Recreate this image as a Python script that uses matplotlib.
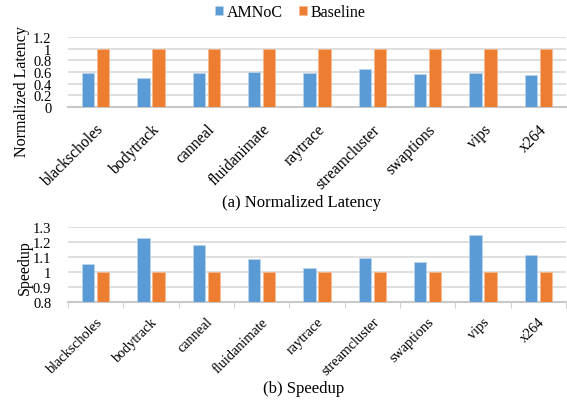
import matplotlib
matplotlib.use("Agg")
import matplotlib.pyplot as plt
import numpy as np

plt.rcParams['font.family'] = ['Liberation Serif', 'DejaVu Serif']

benchmarks = ["blackscholes", "bodytrack", "canneal", "fluidanimate", "raytrace",
              "streamcluster", "swaptions", "vips", "x264"]
latency_amnoc = [0.59, 0.50, 0.59, 0.60, 0.58, 0.66, 0.56, 0.59, 0.55]
latency_base = [1, 1, 1, 1, 1, 1, 1, 1, 1]
speedup_amnoc = [1.053, 1.229, 1.184, 1.089, 1.027, 1.095, 1.067, 1.249, 1.115]
speedup_base = [1, 1, 1, 1, 1, 1, 1, 1, 1]

BLUE = "#5B9BD5"
ORANGE = "#ED7D31"
GRID = "#d9d9d9"
W, H = 567, 402

fig = plt.figure(figsize=(W / 100, H / 100), dpi=100)


def px_axes(left, top, right, bottom):
    return fig.add_axes([left / W, 1 - bottom / H, (right - left) / W, (bottom - top) / H])


def draw(ax, a, b, bottom, ylim, yticks, xfs, xpad, ticks_on):
    x = np.arange(len(benchmarks))
    bw = 0.22
    ax.bar(x - 0.135, np.array(a) - bottom, bw, bottom=bottom, color=BLUE, label="AMNoC",
           edgecolor="#bcd5ec", linewidth=0.5, zorder=3)
    ax.bar(x + 0.135, np.array(b) - bottom, bw, bottom=bottom, color=ORANGE, label="Baseline",
           edgecolor="#f6b98f", linewidth=0.5, zorder=3)
    ax.set_xlim(-0.5, len(benchmarks) - 0.5)
    ax.set_ylim(*ylim)
    ax.set_yticks(yticks)
    ax.set_yticklabels([("%g" % t) for t in yticks], fontsize=10.5)
    ax.yaxis.grid(True, color=GRID, linewidth=1.2, zorder=0)
    ax.set_axisbelow(True)
    for s in ["top", "right", "left"]:
        ax.spines[s].set_visible(False)
    ax.spines["bottom"].set_color("#c8c8c8")
    ax.spines["bottom"].set_linewidth(1.5)
    ax.tick_params(axis="y", length=0, pad=12)
    ax.set_xticks(x)
    ax.set_xticklabels(benchmarks, rotation=45, ha="right", rotation_mode="anchor", fontsize=xfs)
    if ticks_on:
        ax.set_xticks(np.arange(len(benchmarks) + 1) - 0.5, minor=True)
        ax.tick_params(axis="x", which="minor", length=4, color="#c8c8c8")
    ax.tick_params(axis="x", which="major", length=0, pad=xpad)


ax1 = px_axes(68, 38, 566, 108)
draw(ax1, latency_amnoc, latency_base, 0, (0, 1.2), [0, 0.2, 0.4, 0.6, 0.8, 1, 1.2], 11.3, 10, False)

ax2 = px_axes(68, 228.3, 566, 303.3)
draw(ax2, speedup_amnoc, speedup_base, 0.8, (0.8, 1.3), [0.8, 0.9, 1, 1.1, 1.2, 1.3], 10.3, 9, True)

fig.text(22 / W, 1 - 92 / H, "Normalized Latency", rotation=90, ha="center", va="center", fontsize=11.5)
fig.text(25 / W, 1 - 268 / H, "Speedup", rotation=90, ha="center", va="center", fontsize=11.5)

fig.text(302 / W, 1 - 203 / H, "(a) Normalized Latency", ha="center", va="center", fontsize=12)
fig.text(304 / W, 1 - 389 / H, "(b) Speedup", ha="center", va="center", fontsize=12)

handles, labels = ax1.get_legend_handles_labels()
fig.legend(handles, labels, loc="center", bbox_to_anchor=(290 / W, 1 - 13 / H), ncol=2,
           frameon=False, fontsize=11.5, handlelength=0.5, handleheight=0.5,
           handletextpad=0.25, columnspacing=1.0)

fig.savefig("out.png", dpi=100)
